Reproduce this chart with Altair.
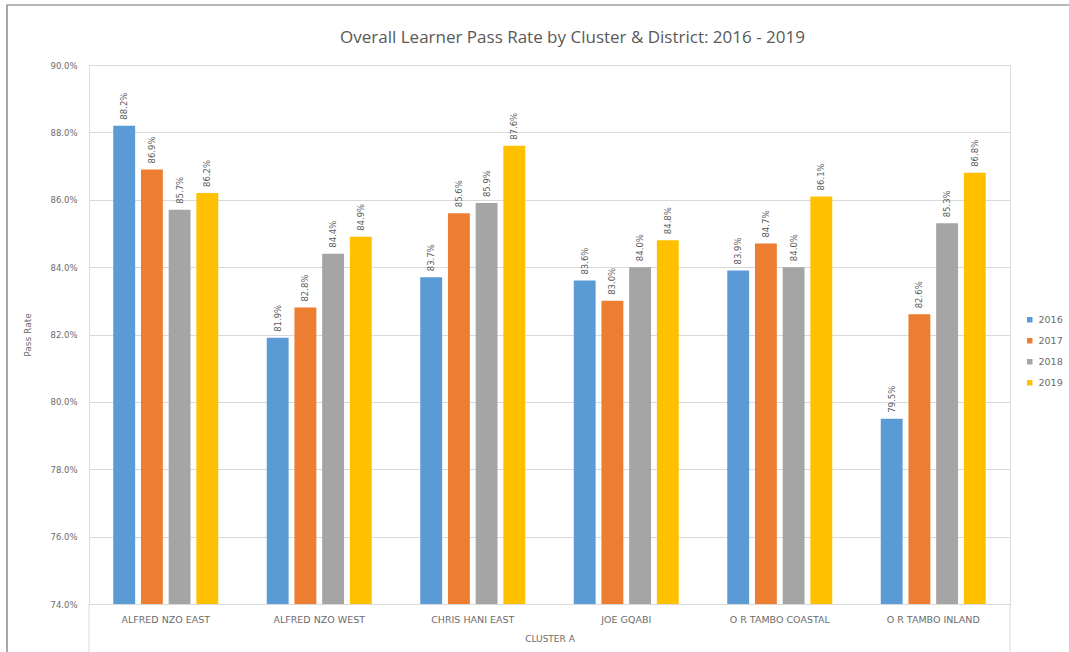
import altair as alt
import pandas as pd

districts = ["ALFRED NZO EAST", "ALFRED NZO WEST", "CHRIS HANI EAST",
             "JOE GQABI", "O R TAMBO COASTAL", "O R TAMBO INLAND"]
years = ["2016", "2017", "2018", "2019"]
rate_2016 = [88.2, 81.9, 83.7, 83.6, 83.9, 79.5]
rate_2017 = [86.9, 82.8, 85.6, 83.0, 84.7, 82.6]
rate_2018 = [85.7, 84.4, 85.9, 84.0, 84.0, 85.3]
rate_2019 = [86.2, 84.9, 87.6, 84.8, 86.1, 86.8]
colors = ["#5B9BD5", "#ED7D31", "#A5A5A5", "#FFC000"]
y_ticks = [74, 76, 78, 80, 82, 84, 86, 88, 90]

series = [rate_2016, rate_2017, rate_2018, rate_2019]
rows = []
for yr, vals in zip(years, series):
    for d, v in zip(districts, vals):
        rows.append({"district": d, "year": yr, "rate": v})
df = pd.DataFrame(rows)

W, H = 921, 539
FONT = "Open Sans"
SMALL = "DejaVu Sans"
GREY = "#595959"
LGREY = "#6b6b6b"

x_enc = alt.X("district:N", sort=districts,
              scale=alt.Scale(paddingInner=0.316, paddingOuter=0.158),
              axis=alt.Axis(title="CLUSTER A", labelAngle=0, labelFontSize=9.5,
                            labelColor=LGREY, labelFont=SMALL, labelPadding=10,
                            ticks=False, domainColor="#d9d9d9",
                            titleFont=SMALL, titleFontSize=9, titleFontWeight="normal",
                            titleColor=LGREY, titlePadding=11))
xo_enc = alt.XOffset("year:N", sort=years,
                     scale=alt.Scale(paddingInner=0.21, paddingOuter=0))
y_enc = alt.Y("rate:Q", scale=alt.Scale(domain=[74, 90], zero=False, nice=False),
              axis=alt.Axis(title="Pass Rate", values=y_ticks,
                            labelExpr="format(datum.value, '.1f') + '%'",
                            labelFontSize=8.5, labelColor=LGREY, labelFont=SMALL,
                            labelPadding=12, ticks=False, domain=False,
                            gridColor="#d9d9d9", titleFont=SMALL, titleFontSize=9,
                            titleFontWeight="normal", titleColor=LGREY,
                            titleX=-57, titleY=H / 2))

base = alt.Chart(df)
one = pd.DataFrame({"k": [0]})

frame = alt.Chart(one).mark_rect(
    fill="transparent", stroke="#6f6f6f", strokeWidth=1.2
).encode(x=alt.value(-82), x2=alt.value(W + 300),
         y=alt.value(-60), y2=alt.value(H + 300))

sep_left = alt.Chart(one).mark_rule(color="#d9d9d9", strokeWidth=1).encode(
    x=alt.value(0), y=alt.value(H), y2=alt.value(H + 50))
sep_right = alt.Chart(one).mark_rule(color="#d9d9d9", strokeWidth=1).encode(
    x=alt.value(W), y=alt.value(H), y2=alt.value(H + 50))

bars = base.mark_bar().encode(
    x=x_enc, xOffset=xo_enc, y=y_enc, y2=alt.datum(74),
    color=alt.Color("year:N", sort=years,
                    scale=alt.Scale(domain=years, range=colors),
                    legend=alt.Legend(title=None, orient="none", legendX=936,
                                      legendY=250, symbolType="square",
                                      symbolSize=30, symbolStrokeWidth=0,
                                      labelFontSize=9.5, labelColor=LGREY,
                                      labelFont=SMALL, rowPadding=10,
                                      labelOffset=4))
)

labels = base.mark_text(angle=270, align="left", baseline="middle", dx=6,
                        fontSize=8.5, color=GREY, font=SMALL).encode(
    x=x_enc, xOffset=xo_enc, y=y_enc,
    text=alt.Text("label:N")
).transform_calculate(label="format(datum.rate, '.1f') + '%'")

chart = alt.layer(frame, sep_left, sep_right, bars, labels).properties(
    width=W, height=H,
    title=alt.TitleParams("Overall Learner Pass Rate by Cluster & District: 2016 - 2019",
                          font=FONT, fontSize=17, fontWeight="normal", color=GREY,
                          anchor="middle", dx=23, offset=0, dy=43),
    autosize=alt.AutoSizeParams(type="none"),
    padding={"left": 89, "top": 65, "right": 59, "bottom": 48},
).configure_view(stroke=None).configure(background="white")

chart.save("out.html", embed_options={"renderer": "svg", "actions": False})
